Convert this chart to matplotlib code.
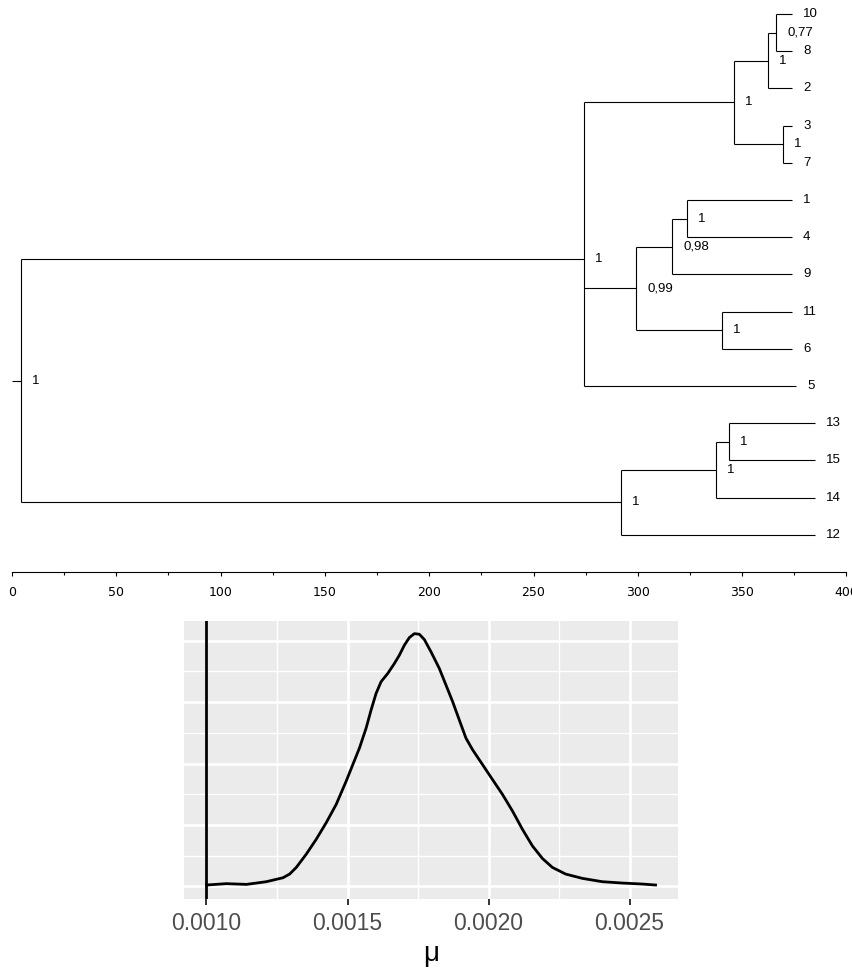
import numpy as np
import matplotlib
matplotlib.use("Agg")
import matplotlib.pyplot as plt

# --- tree: tips listed top to bottom
tip_labels = ["10", "8", "2", "3", "7", "1", "4", "9", "11", "6", "5", "13", "15", "14", "12"]
tip_ages = [373.9, 373.9, 373.9, 373.9, 373.9, 373.9, 373.9, 373.9, 373.9, 373.9,
            375.8, 385.0, 385.0, 385.0, 385.0]
tip_parent = ["B3", "B3", "B2", "B4", "B4", "C2", "C2", "C1", "C3", "C3",
              "A", "D2", "D2", "D1", "D"]

# --- internal nodes
node_names = ["root", "A", "B1", "B2", "B3", "B4", "C", "C1", "C2", "C3", "D", "D1", "D2"]
node_ages = [4.2, 274.2, 346.1, 362.4, 366.3, 369.6, 299.1, 316.4, 323.6, 340.4, 291.9, 337.5, 343.7]
node_parent = [None, "root", "A", "B1", "B2", "B1", "A", "C", "C1", "C", "root", "D", "D1"]
node_support = ["1", "1", "1", "1", "0,77", "1", "0,99", "0,98", "1", "1", "1", "1", "1"]

# --- posterior density of mu
mu_grid = [0.0010000, 0.0010708, 0.0011415, 0.0012123, 0.0012712, 0.0012948, 0.0013184,
           0.0013538, 0.0013891, 0.0014245, 0.0014599, 0.0014953, 0.0015188, 0.0015424,
           0.0015660, 0.0015837, 0.0016014, 0.0016191, 0.0016427, 0.0016662, 0.0016839,
           0.0017016, 0.0017193, 0.0017370, 0.0017547, 0.0017724, 0.0017960, 0.0018254,
           0.0018490, 0.0018726, 0.0018962, 0.0019198, 0.0019434, 0.0019787, 0.0020141,
           0.0020495, 0.0020849, 0.0021202, 0.0021556, 0.0021910, 0.0022264, 0.0022735,
           0.0023325, 0.0024032, 0.0024740, 0.0025448, 0.0025920]
mu_density = [11, 22, 16, 38, 70, 100, 154, 262, 383, 518, 667, 856, 991, 1126, 1288, 1436,
              1571, 1666, 1733, 1814, 1882, 1963, 2025, 2057, 2052, 2009, 1909, 1774, 1639,
              1504, 1355, 1207, 1112, 991, 869, 748, 613, 464, 329, 227, 154, 100, 65, 38,
              27, 19, 11]
mu_vline = 0.0010
mu_ticks = [0.0010, 0.0015, 0.0020, 0.0025]
mu_minor = [0.00125, 0.00175, 0.00225]
dens_ticks = [0, 500, 1000, 1500, 2000]
dens_minor = [250, 750, 1250, 1750]

plt.rcParams['font.family'] = ['Liberation Sans', 'DejaVu Sans']

fig = plt.figure(figsize=(8.52, 9.69), dpi=100)

# ---------------- tree ----------------
ax = fig.add_axes([0, 397/969, 1, 572/969])

# y of every node = mean of its children (tips at 0..n-1)
ypos = {}
age = {}
children = {n: [] for n in node_names}
for i, (lab, a, p) in enumerate(zip(tip_labels, tip_ages, tip_parent)):
    key = "tip" + lab
    ypos[key] = float(i)
    age[key] = a
    children[p].append(key)
for n, a, p in zip(node_names, node_ages, node_parent):
    age[n] = a
    if p is not None:
        children[p].append(n)


def node_y(n):
    if n not in ypos:
        ypos[n] = np.mean([node_y(c) for c in children[n]])
    return ypos[n]


node_y("root")

kw = dict(color="black", lw=0.8, solid_capstyle="butt")
parent_of = dict(zip(["tip" + t for t in tip_labels], tip_parent))
parent_of.update({n: p for n, p in zip(node_names, node_parent) if p is not None})
for n, p in parent_of.items():
    ax.plot([age[p], age[n]], [ypos[n], ypos[n]], **kw)
for n in node_names:
    ys = [ypos[c] for c in children[n]]
    ax.plot([age[n], age[n]], [min(ys), max(ys)], **kw)
# root edge
ax.plot([0, age["root"]], [ypos["root"], ypos["root"]], **kw)

for lab, a in zip(tip_labels, tip_ages):
    ax.annotate(lab, (a, ypos["tip" + lab]), xytext=(8, 0), textcoords="offset points",
                ha="left", va="center", fontsize=9.5)
for n, s in zip(node_names, node_support):
    ax.annotate(s, (age[n], ypos[n]), xytext=(8, 0), textcoords="offset points",
                ha="left", va="center", fontsize=9.5)

ax.set_xlim(-12/2.086, 840/2.086)
ax.set_ylim(15.0, -14/37.2)
for s in ["top", "left", "right"]:
    ax.spines[s].set_visible(False)
ax.spines["bottom"].set_bounds(0, 400)
ax.spines["bottom"].set_linewidth(0.8)
ax.set_xticks(np.arange(0, 401, 50))
ax.set_xticks(np.arange(25, 400, 50), minor=True)
ax.set_yticks([])
ax.tick_params(axis="x", which="major", length=3, width=0.8, pad=7)
ax.tick_params(axis="x", which="minor", length=2, width=0.8)
for t in ax.get_xticklabels():
    t.set_fontfamily("DejaVu Sans")
    t.set_fontsize(9)
    t.set_clip_on(False)
ax.patch.set_visible(False)

# ---------------- density ----------------
bx = fig.add_axes([184/852, 70/969, 494/852, 278/969])
bx.set_facecolor("#EBEBEB")
bx.plot(mu_grid, mu_density, color="black", lw=2.0, solid_joinstyle="round")
bx.axvline(mu_vline, color="black", lw=2.0)

xr = max(mu_grid) - min(mu_grid)
bx.set_xlim(min(mu_grid) - 0.05*xr, max(mu_grid) + 0.05*xr)
yr = max(mu_density)
bx.set_ylim(-0.05*yr, 1.05*yr)

bx.set_xticks(mu_ticks)
bx.set_xticklabels([f"{v:.4f}" for v in mu_ticks])
bx.set_xticks(mu_minor, minor=True)
bx.set_yticks(dens_ticks)
bx.set_yticks(dens_minor, minor=True)
bx.grid(which="major", color="white", lw=1.9)
bx.grid(which="minor", color="white", lw=1.0)
bx.set_axisbelow(True)
for s in bx.spines.values():
    s.set_visible(False)
bx.tick_params(axis="y", which="both", length=0, labelleft=False)
bx.tick_params(axis="x", which="minor", length=0)
bx.tick_params(axis="x", which="major", length=4, width=1.4, color="#333333",
               labelcolor="#4D4D4D", labelsize=16.5, pad=5)
bx.set_xlabel("μ", fontsize=20, labelpad=5)

fig.savefig("out.png", dpi=100)
